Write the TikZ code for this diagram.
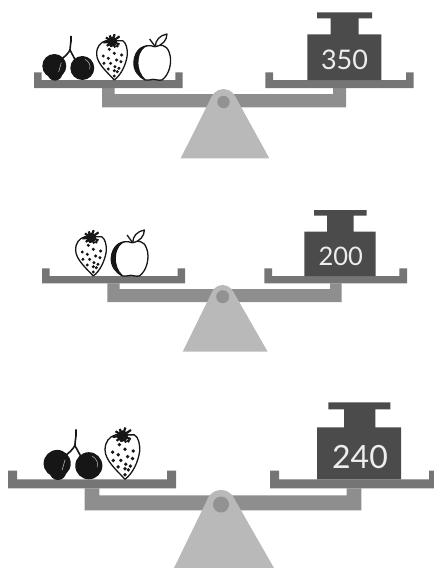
\documentclass[tikz,border=0pt]{standalone}
\usepackage{fontspec}
\setmainfont{Lato}
\usepackage{xcolor}
\definecolor{pancol}{HTML}{757575}
\definecolor{beamcol}{HTML}{8E8E8E}
\definecolor{basecol}{HTML}{B9B9B9}
\definecolor{pivotcol}{HTML}{929292}
\definecolor{masscol}{HTML}{4B4B4B}
\definecolor{fruitcol}{HTML}{161616}
\tikzset{
  panfill/.style={fill=pancol},
  beamfill/.style={fill=beamcol},
  basefill/.style={fill=basecol},
  pivotfill/.style={fill=pivotcol},
  massfill/.style={fill=masscol},
  masslabel/.style={text=white!93!black, inner sep=0pt},
  fruitline/.style={draw=fruitcol, line width=1.3pt, line join=round},
  cherries/.pic={
    \draw[fruitline, line width=1.6pt] (8,-132) .. controls (9,-115) and (6,-105) .. (5,-90)
      .. controls (0,-80) and (-10,-70) .. (-22,-62);
    \draw[fruitline, line width=1.6pt] (5,-90) .. controls (10,-80) and (15,-72) .. (20,-62);
    \draw[fruitline, line width=2.4pt, line cap=round] (8,-130) -- (8,-116);
    \fill[fruitcol] (-42,-42) circle[radius=36];
    \fill[fruitcol] (-40,-20) circle[radius=22];
    \fill[fruitcol] (42,-36) circle[radius=36];
    \draw[white!75!black, line width=.5pt] (-21,-52) -- (-29,-24);
    \draw[white!75!black, line width=.5pt] (50,-62) .. controls (62,-56) and (68,-44) .. (64,-32);
  },
  berry/.pic={
    \draw[fruitline, fill=white] (0,0) .. controls (-20,-22) and (-53,-50) .. (-53,-78)
      .. controls (-53,-100) and (-42,-113) .. (-25,-118)
      -- (25,-118) .. controls (36,-112) and (40,-92) .. (39,-75)
      .. controls (35,-45) and (20,-15) .. (0,0);
    % leaves
    \foreach \ang/\len in {20/24,60/20,100/16,140/20,175/26,215/22,250/20,290/24,325/28}
      \draw[fruitcol, line width=2.2pt] (-7,-115) -- +(\ang:\len);
    \fill[fruitcol] (-7,-115) circle[radius=15];
    % seeds
    \foreach \sx/\sy in {-15/-92,9/-102,0/-80,22/-75,-33/-72,-18/-65,7/-60,20/-55,-31/-50,-11/-50,2/-40,14/-35,-18/-33,0/-28,9/-25,0/-12}
      \fill[fruitcol] (\sx,\sy) circle[radius=5];
  },
  apple/.pic={
    \draw[fruitline, fill=white] (3,-100) .. controls (18,-108) and (40,-108) .. (48,-82)
      .. controls (58,-55) and (48,-15) .. (26,0)
      .. controls (15,2) and (8,-2) .. (0,-2)
      .. controls (-8,-2) and (-15,2) .. (-24,0)
      .. controls (-45,-10) and (-60,-30) .. (-58,-55)
      .. controls (-56,-90) and (-25,-112) .. (3,-100);
    \fill[fruitcol] (-15,-103) .. controls (-48,-105) and (-60,-72) .. (-58,-50)
      .. controls (-56,-25) and (-38,-6) .. (-22,0)
      .. controls (-38,-15) and (-47,-35) .. (-44,-60)
      .. controls (-42,-85) and (-30,-98) .. (-15,-103);
    \draw[fruitline] (6,-100) -- (-11,-123);
    \draw[fruitline, fill=white] (6,-100) .. controls (6,-120) and (20,-134) .. (41,-138)
      .. controls (41,-120) and (28,-104) .. (6,-100);
  }
}
\begin{document}
\begin{tikzpicture}[x=1pt, y=-1pt]
  \useasboundingbox (0,0) rectangle (434,568);
  \clip (0,0) rectangle (434,568);
  % Top scale
  \fill[beamfill] (102,88) -- (114.5,88) -- (114.5,94) -- (333,94) -- (333,88) -- (346,88) -- (346,107.3) -- (102,107.3) -- cycle;
  \fill[basefill] (180.7,158.3) -- (212,95.9) -- (235,95.9) -- (269.3,158.3) -- cycle;
  \fill[basefill] (223.5,102) circle[radius=13];
  \fill[pivotfill] (223.5,102) circle[radius=6.2];
  \fill[panfill] (34,72.3) -- (41.5,72.3) -- (41.5,80) -- (175.3,80) -- (175.3,72.3) -- (182.7,72.3) -- (182.7,88) -- (34,88) -- cycle;
  \fill[panfill] (265.3,72.3) -- (273,72.3) -- (273,80) -- (406,80) -- (406,72.3) -- (413.7,72.3) -- (413.7,88) -- (265.3,88) -- cycle;
  \fill[massfill] (307.3,80) -- (307.3,34.3) -- (330.7,34.3) -- (330.7,18.3) -- (317,18.3) -- (317,12.3) -- (372,12.3) -- (372,18.3) -- (358.7,18.3) -- (358.7,34.3) -- (381.3,34.3) -- (381.3,80) -- cycle;
  \node[masslabel, font=\fontsize{27}{27}\selectfont] (m350) at (344.5,60) {350};
  \pic[shift={(68.3,80)}, scale=0.3333] {cherries};
  \pic[shift={(114.3,80)}, scale=0.3333] {berry};
  \pic[shift={(153.3,80)}, scale=0.3333] {apple};
  % Middle scale
  \fill[beamfill] (107.3,283.3) -- (119.7,283.3) -- (119.7,289) -- (330,289) -- (330,283.3) -- (341.7,283.3) -- (341.7,302) -- (107.3,302) -- cycle;
  \fill[basefill] (182.7,351.7) -- (212.4,291.2) -- (233,291.2) -- (267.7,351.7) -- cycle;
  \fill[basefill] (222.7,296.7) circle[radius=11.7];
  \fill[pivotfill] (222.7,296.7) circle[radius=6.5];
  \fill[panfill] (42,268.3) -- (49.5,268.3) -- (49.5,276) -- (177.5,276) -- (177.5,268.3) -- (185,268.3) -- (185,283.3) -- (42,283.3) -- cycle;
  \fill[panfill] (264.3,268.3) -- (272,268.3) -- (272,276) -- (399.3,276) -- (399.3,268.3) -- (407,268.3) -- (407,283.3) -- (264.3,283.3) -- cycle;
  \fill[massfill] (304.3,276) -- (304.3,231.7) -- (327,231.7) -- (327,215.7) -- (314,215.7) -- (314,210) -- (366.7,210) -- (366.7,215.7) -- (353.7,215.7) -- (353.7,231.7) -- (375.7,231.7) -- (375.7,276) -- cycle;
  \node[masslabel, font=\fontsize{25.5}{25.5}\selectfont] (m200) at (340.7,256) {200};
  \pic[shift={(93.3,276)}, scale=0.3333] {berry};
  \pic[shift={(130.7,276)}, scale=0.3333] {apple};
  % Bottom scale
  \fill[beamfill] (84.7,488.3) -- (99.3,488.3) -- (99.3,495.3) -- (346.7,495.3) -- (346.7,488.3) -- (361.3,488.3) -- (361.3,510.3) -- (84.7,510.3) -- cycle;
  \fill[basefill] (174,568) -- (208.2,497.7) -- (233.8,497.7) -- (274,568) -- cycle;
  \fill[basefill] (221,504.5) circle[radius=14.5];
  \fill[pivotfill] (221,504.5) circle[radius=8];
  \fill[panfill] (8,470.7) -- (17,470.7) -- (17,479.3) -- (167,479.3) -- (167,470.7) -- (176,470.7) -- (176,488.3) -- (8,488.3) -- cycle;
  \fill[panfill] (270,470.7) -- (279,470.7) -- (279,479.3) -- (429,479.3) -- (429,470.7) -- (438,470.7) -- (438,488.3) -- (270,488.3) -- cycle;
  \fill[massfill] (317,479.3) -- (317,427.3) -- (344,427.3) -- (344,409.3) -- (328.3,409.3) -- (328.3,402.3) -- (390.3,402.3) -- (390.3,409.3) -- (375.3,409.3) -- (375.3,427.3) -- (401,427.3) -- (401,479.3) -- cycle;
  \node[masslabel, font=\fontsize{32}{32}\selectfont] (m240) at (360,456.7) {240};
  \pic[shift={(73,479.3)}, scale=0.3767] {cherries};
  \pic[shift={(125,479.3)}, scale=0.3767] {berry};
\end{tikzpicture}
\end{document}
